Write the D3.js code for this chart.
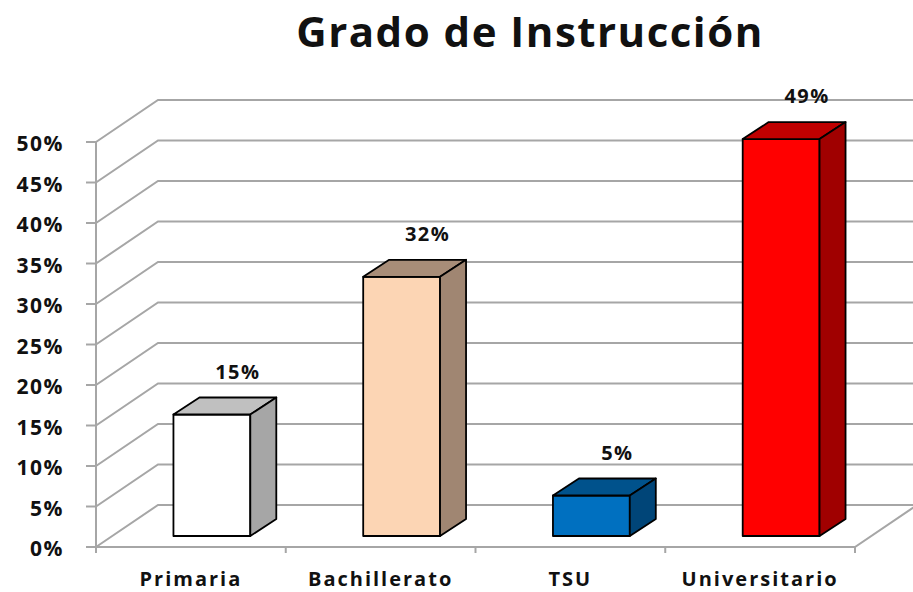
<!DOCTYPE html>
<html>
<head>
  <meta charset="utf-8">
  <title>Grado de Instrucción</title>
  <style>
  body { margin: 0; background: #fff; }
  text { font-family: "Open Sans", sans-serif; font-weight: bold; fill: #111; }
  .grid { fill: none; stroke: #a6a6a6; stroke-width: 2; }
  .bar path { stroke: #000; stroke-width: 1.8; stroke-linejoin: round; }
  </style>
</head>
<body>
<script src="https://d3js.org/d3.v7.min.js"></script>
<script>
// Data
var categories = ["Primaria", "Bachillerato", "TSU", "Universitario"];
var values = [0.15, 0.32, 0.05, 0.49];
var valueLabels = ["15%", "32%", "5%", "49%"];
var tickValues = [0, 0.05, 0.10, 0.15, 0.20, 0.25, 0.30, 0.35, 0.40, 0.45, 0.50];
var frontColors = ["#ffffff", "#fcd5b4", "#0070c0", "#ff0000"];
var topColors = ["#c0c0c0", "#a88d78", "#00528c", "#c00000"];
var sideColors = ["#a6a6a6", "#a08672", "#004578", "#a00000"];

var width = 913, height = 592;

var svg = d3.select("body").append("svg")
    .attr("width", width)
    .attr("height", height);

// front plane scales
var y = d3.scaleLinear().domain([0, 0.5]).range([547, 142]);
var x = d3.scaleBand().domain(categories).range([96, 855]).padding(0);

// depth of the floor / walls
var depthX = 62, depthY = -42;
// bar position inside the depth
var barShiftX = 21, barShiftY = -11, barDX = 26, barDY = -17;

// title
svg.append("text")
    .attr("x", 530)
    .attr("y", 47)
    .attr("text-anchor", "middle")
    .style("font-size", "42px")
    .style("letter-spacing", "1.5px")
    .text("Grado de Instrucción");

// gridlines: left wall diagonal + back wall
var grid = svg.append("g");
grid.selectAll(".gl")
    .data(tickValues)
  .enter().append("path")
    .attr("class", "grid")
    .attr("d", function(d) {
      return "M" + x.range()[0] + "," + y(d) +
             "L" + (x.range()[0] + depthX) + "," + (y(d) + depthY) +
             "L" + width + "," + (y(d) + depthY);
    });

// floor front edge and right edge
grid.append("path")
    .attr("class", "grid")
    .attr("d", "M" + x.range()[0] + "," + y(0) + "L" + x.range()[1] + "," + y(0) +
               "L" + (x.range()[1] + depthX) + "," + (y(0) + depthY));

// vertical axis line
grid.append("path")
    .attr("class", "grid")
    .attr("d", "M" + x.range()[0] + "," + y(0.5) + "V" + (y(0) + 6));

// y ticks
grid.selectAll(".yt")
    .data(tickValues)
  .enter().append("path")
    .attr("class", "grid")
    .attr("d", function(d) { return "M" + (x.range()[0] - 10) + "," + y(d) + "H" + x.range()[0]; });

// x ticks
var xTicks = categories.map(function(c) { return x(c); }).concat([x.range()[1]]);
grid.selectAll(".xt")
    .data(xTicks)
  .enter().append("path")
    .attr("class", "grid")
    .attr("d", function(d) { return "M" + d + "," + y(0) + "V" + (y(0) + 6); });

// y tick labels
svg.append("g").selectAll("text")
    .data(tickValues)
  .enter().append("text")
    .attr("x", 64)
    .attr("y", function(d) { return y(d) + 9; })
    .attr("text-anchor", "end")
    .style("font-size", "21px")
    .style("letter-spacing", "1.5px")
    .text(d3.format(".0%"));

// category labels
svg.append("g").selectAll("text")
    .data(categories)
  .enter().append("text")
    .attr("x", function(d) { return x(d) + x.bandwidth() / 2; })
    .attr("y", 586)
    .attr("text-anchor", "middle")
    .style("font-size", "20px")
    .style("letter-spacing", "2px")
    .text(function(d) { return d; });

// bars
var barW = x.bandwidth() * 0.405;
var bars = svg.append("g").selectAll(".bar")
    .data(categories)
  .enter().append("g")
    .attr("class", "bar");

function fx(c) { return x(c) + x.bandwidth() / 2 + barShiftX - barW / 2; }

bars.append("path")
    .attr("fill", function(d, i) { return frontColors[i]; })
    .attr("d", function(d, i) {
      var x0 = fx(d), y0 = y(values[i]) + barShiftY, y1 = y(0) + barShiftY;
      return "M" + x0 + "," + y0 + "H" + (x0 + barW) + "V" + y1 + "H" + x0 + "Z";
    });

bars.append("path")
    .attr("fill", function(d, i) { return topColors[i]; })
    .attr("d", function(d, i) {
      var x0 = fx(d), y0 = y(values[i]) + barShiftY;
      return "M" + x0 + "," + y0 + "L" + (x0 + barDX) + "," + (y0 + barDY) +
             "H" + (x0 + barW + barDX) + "L" + (x0 + barW) + "," + y0 + "Z";
    });

bars.append("path")
    .attr("fill", function(d, i) { return sideColors[i]; })
    .attr("d", function(d, i) {
      var x1 = fx(d) + barW, y0 = y(values[i]) + barShiftY, y1 = y(0) + barShiftY;
      return "M" + x1 + "," + y0 + "L" + (x1 + barDX) + "," + (y0 + barDY) +
             "V" + (y1 + barDY) + "L" + x1 + "," + y1 + "Z";
    });

// value labels
svg.append("g").selectAll("text")
    .data(categories)
  .enter().append("text")
    .attr("x", function(d) { return fx(d) + barDX + barW / 2; })
    .attr("y", function(d, i) { return y(values[i]) + barShiftY + barDY - 19; })
    .attr("text-anchor", "middle")
    .style("font-size", "20px")
    .style("letter-spacing", "1.5px")
    .text(function(d, i) { return valueLabels[i]; });
</script>
</body>
</html>
